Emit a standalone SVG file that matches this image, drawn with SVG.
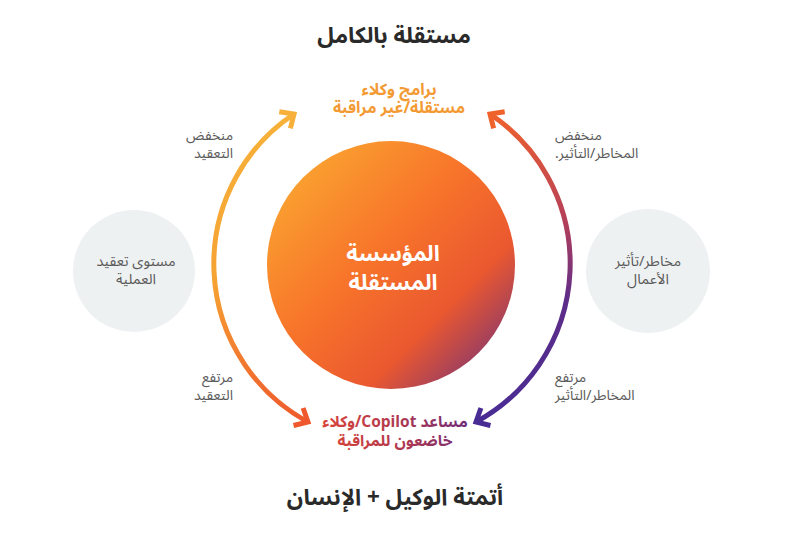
<svg xmlns="http://www.w3.org/2000/svg" width="786" height="539" viewBox="0 0 786 539">
<style>
  text { font-family: "Noto Sans Arabic", "Noto Sans", "DejaVu Sans", sans-serif; }
  .title { font-size: 22.5px; font-weight: bold; fill: #2a2a2a; text-anchor: middle; }
  .lbl { font-size: 14px; fill: #5a5a5a; }
  .side { font-size: 14.5px; fill: #5a5a5a; text-anchor: middle; }
  .center { font-size: 22px; font-weight: bold; fill: #ffffff; text-anchor: middle; }
  .top { font-size: 16px; font-weight: bold; fill: #F39A33; text-anchor: middle; }
  .bot { font-size: 15.5px; font-weight: bold; fill: url(#gBot); text-anchor: middle; }
  .arc { fill: none; stroke-width: 5; stroke-linecap: butt; }
  .grey { fill: #EEF1F2; }
</style>
<defs>
  <linearGradient id="gMain" x1="0" y1="0" x2="1" y2="1">
    <stop offset="0" stop-color="#FBB232"/>
    <stop offset="0.45" stop-color="#F7732A"/>
    <stop offset="0.7" stop-color="#EA5830"/>
    <stop offset="1" stop-color="#5E2A86"/>
  </linearGradient>
  <linearGradient id="gLeft" gradientUnits="userSpaceOnUse" x1="0" y1="112" x2="0" y2="425">
    <stop offset="0" stop-color="#F7B23A"/>
    <stop offset="0.55" stop-color="#F5A233"/>
    <stop offset="1" stop-color="#EE582C"/>
  </linearGradient>
  <linearGradient id="gRight" gradientUnits="userSpaceOnUse" x1="0" y1="112" x2="0" y2="425">
    <stop offset="0" stop-color="#F0622C"/>
    <stop offset="0.35" stop-color="#B43F5A"/>
    <stop offset="0.6" stop-color="#5E2C88"/>
    <stop offset="1" stop-color="#482C94"/>
  </linearGradient>
  <linearGradient id="gBot" gradientUnits="userSpaceOnUse" x1="330" y1="450" x2="470" y2="412">
    <stop offset="0" stop-color="#D8443A"/>
    <stop offset="0.5" stop-color="#B0384F"/>
    <stop offset="1" stop-color="#6A2B7C"/>
  </linearGradient>
  <marker id="mLT" markerUnits="userSpaceOnUse" viewBox="-20 -20 40 40" markerWidth="40" markerHeight="40" refX="0" refY="0" orient="auto-start-reverse" overflow="visible">
    <path d="M -11 -10 L 0 0 L -11 10" fill="none" stroke="#F7B03A" stroke-width="5" stroke-linejoin="miter" stroke-linecap="butt"/>
  </marker>
  <marker id="mLB" markerUnits="userSpaceOnUse" viewBox="-20 -20 40 40" markerWidth="40" markerHeight="40" refX="0" refY="0" orient="auto-start-reverse" overflow="visible">
    <path d="M -11 -10 L 0 0 L -11 10" fill="none" stroke="#EE582C" stroke-width="5" stroke-linejoin="miter" stroke-linecap="butt"/>
  </marker>
  <marker id="mRT" markerUnits="userSpaceOnUse" viewBox="-20 -20 40 40" markerWidth="40" markerHeight="40" refX="0" refY="0" orient="auto-start-reverse" overflow="visible">
    <path d="M -11 -10 L 0 0 L -11 10" fill="none" stroke="#F0622C" stroke-width="5" stroke-linejoin="miter" stroke-linecap="butt"/>
  </marker>
  <marker id="mRB" markerUnits="userSpaceOnUse" viewBox="-20 -20 40 40" markerWidth="40" markerHeight="40" refX="0" refY="0" orient="auto-start-reverse" overflow="visible">
    <path d="M -11 -10 L 0 0 L -11 10" fill="none" stroke="#482C94" stroke-width="5" stroke-linejoin="miter" stroke-linecap="butt"/>
  </marker>
</defs>

<rect width="786" height="539" fill="#ffffff"/>

<g id="connectors">
  <path class="arc" stroke="url(#gLeft)" d="M 308 422 A 180 180 0 0 1 294 114" marker-start="url(#mLB)" marker-end="url(#mLT)"/>
  <path class="arc" stroke="url(#gRight)" d="M 490 114 A 180 180 0 0 1 476 422" marker-start="url(#mRT)" marker-end="url(#mRB)"/>
</g>

<g id="title-top">
  <text class="title" x="394" y="43">مستقلة بالكامل</text>
</g>
<g id="title-bottom">
  <text class="title" x="395" y="505">أتمتة الوكيل + الإنسان</text>
</g>

<g id="node-top">
  <text class="top" x="399" y="95">برامج وكلاء</text>
  <text class="top" x="399" y="113">مستقلة/غير مراقبة</text>
</g>

<g id="node-bottom">
  <text class="bot" direction="rtl" x="395" y="427">مساعد Copilot/وكلاء</text>
  <text class="bot" direction="rtl" x="395" y="446">خاضعون للمراقبة</text>
</g>

<g id="node-center">
  <circle cx="391" cy="265" r="124" fill="url(#gMain)"/>
  <text class="center" x="393" y="261">المؤسسة</text>
  <text class="center" x="393" y="290">المستقلة</text>
</g>

<g id="node-left">
  <circle class="grey" cx="134" cy="271" r="61"/>
  <text class="side" x="136" y="266">مستوى تعقيد</text>
  <text class="side" x="136" y="284">العملية</text>
</g>

<g id="node-right">
  <circle class="grey" cx="648" cy="271" r="62"/>
  <text class="side" x="648" y="266">مخاطر/تأثير</text>
  <text class="side" x="648" y="284">الأعمال</text>
</g>

<g id="labels-left">
  <text class="lbl" text-anchor="end" x="233" y="140">منخفض</text>
  <text class="lbl" text-anchor="end" x="233" y="158">التعقيد</text>
  <text class="lbl" text-anchor="end" x="233" y="382">مرتفع</text>
  <text class="lbl" text-anchor="end" x="233" y="400">التعقيد</text>
</g>

<g id="labels-right">
  <text class="lbl" direction="rtl" text-anchor="end" x="555" y="140">منخفض</text>
  <text class="lbl" direction="rtl" text-anchor="end" x="555" y="158">المخاطر/التأثير.</text>
  <text class="lbl" direction="rtl" text-anchor="end" x="555" y="382">مرتفع</text>
  <text class="lbl" direction="rtl" text-anchor="end" x="555" y="400">المخاطر/التأثير</text>
</g>
</svg>
